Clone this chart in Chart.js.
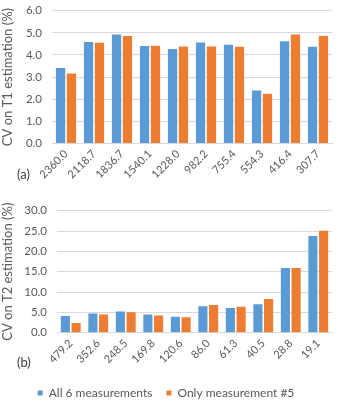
<!DOCTYPE html>
<html>
<head>
<meta charset="utf-8">
<script src="https://cdn.jsdelivr.net/npm/chart.js@4.4.1/dist/chart.umd.min.js"></script>
<style>
    body { margin: 0; background: #fff; width: 339px; height: 400px; position: relative; overflow: hidden; }
    canvas { position: absolute; left: 0; }
    .panel { position: absolute; left: 17px; font: 13px Lato, sans-serif; color: #404040; }
</style>
</head>
<body>
<canvas id="chartT1" width="339" height="196" style="top:0"></canvas>
<canvas id="chartT2" width="339" height="200" style="top:200px"></canvas>
<div class="panel" style="top:166px">(a)</div>
<div class="panel" style="top:354px">(b)</div>
<script>
const t1Labels = ['2360.0', '2118.7', '1836.7', '1540.1', '1228.0', '982.2', '755.4', '554.3', '416.4', '307.7'];
const t1All = [3.41, 4.58, 4.92, 4.40, 4.27, 4.56, 4.46, 2.39, 4.62, 4.37];
const t1Only5 = [3.16, 4.55, 4.86, 4.41, 4.38, 4.38, 4.37, 2.24, 4.92, 4.86];

const t2Labels = ['479.2', '352.6', '248.5', '169.8', '120.6', '86.0', '61.3', '40.5', '28.8', '19.1'];
const t2All = [4.1, 4.7, 5.2, 4.5, 3.9, 6.5, 6.1, 7.0, 15.9, 23.8];
const t2Only5 = [2.4, 4.5, 5.0, 4.2, 3.8, 6.8, 6.4, 8.3, 15.9, 25.1];

const seriesNames = ['All 6 measurements', 'Only measurement #5'];
const blue = '#5B9BD5';
const orange = '#ED7D31';
const textColor = '#595959';
const gridColor = '#D9D9D9';

Chart.defaults.font.family = 'Lato, sans-serif';
Chart.defaults.color = textColor;
Chart.defaults.animation = false;

// zero out the extra room chart.js keeps for tick labels, so the plot box stays where we put it
function noEdgePadding(scale) {
    scale.paddingTop = 0;
    scale.paddingBottom = 0;
    scale.paddingLeft = 0;
    scale.paddingRight = 0;
}

// fixed legend height (only used on the bottom chart)
const legendHeight = {
    id: 'legendHeight',
    beforeInit(chart) {
        if (!chart.legend) return;
        const fit = chart.legend.fit;
        chart.legend.fit = function () {
            fit.call(this);
            this.height = 27;
        };
    }
};

function makeChart(el, labels, allVals, onlyVals, opts) {
    return new Chart(el, {
        type: 'bar',
        data: {
            labels: labels,
            datasets: [
                { label: seriesNames[0], data: allVals, backgroundColor: blue },
                { label: seriesNames[1], data: onlyVals, backgroundColor: orange },
            ]
        },
        options: {
            responsive: false,
            categoryPercentage: 0.78,
            barPercentage: 0.85,
            layout: { padding: { top: 10.7, right: 7, bottom: 0, left: 0 } },
            plugins: {
                legend: opts.legend,
                tooltip: { enabled: false }
            },
            scales: {
                x: {
                    grid: { display: false, drawTicks: false },
                    border: { color: gridColor },
                    ticks: { minRotation: 45, maxRotation: 45, padding: 4, font: { size: 11 }, color: textColor },
                    afterFit: function (scale) {
                        scale.height = opts.xHeight;
                        noEdgePadding(scale);
                    }
                },
                y: {
                    min: 0,
                    max: opts.max,
                    grid: { color: gridColor, drawTicks: false },
                    border: { display: false },
                    ticks: {
                        stepSize: opts.step,
                        padding: 10,
                        font: { size: 11.5 },
                        color: textColor,
                        callback: function (v) { return v.toFixed(1); }
                    },
                    title: { display: true, text: opts.title, font: { size: 13 }, color: textColor, padding: 0 },
                    afterFit: function (scale) {
                        scale.width = opts.yWidth;
                        noEdgePadding(scale);
                    }
                }
            }
        },
        plugins: opts.plugins
    });
}

makeChart(document.getElementById('chartT1'), t1Labels, t1All, t1Only5, {
    max: 6, step: 1, title: 'CV on T1 estimation (%)',
    yWidth: 52, xHeight: 52.6,
    legend: { display: false },
    plugins: []
});

makeChart(document.getElementById('chartT2'), t2Labels, t2All, t2Only5, {
    max: 30, step: 5, title: 'CV on T2 estimation (%)',
    yWidth: 57, xHeight: 40.3,
    legend: {
        display: true,
        position: 'bottom',
        labels: { boxWidth: 5, boxHeight: 5, padding: 14, font: { size: 12 }, color: textColor }
    },
    plugins: [legendHeight]
});
</script>
</body>
</html>
